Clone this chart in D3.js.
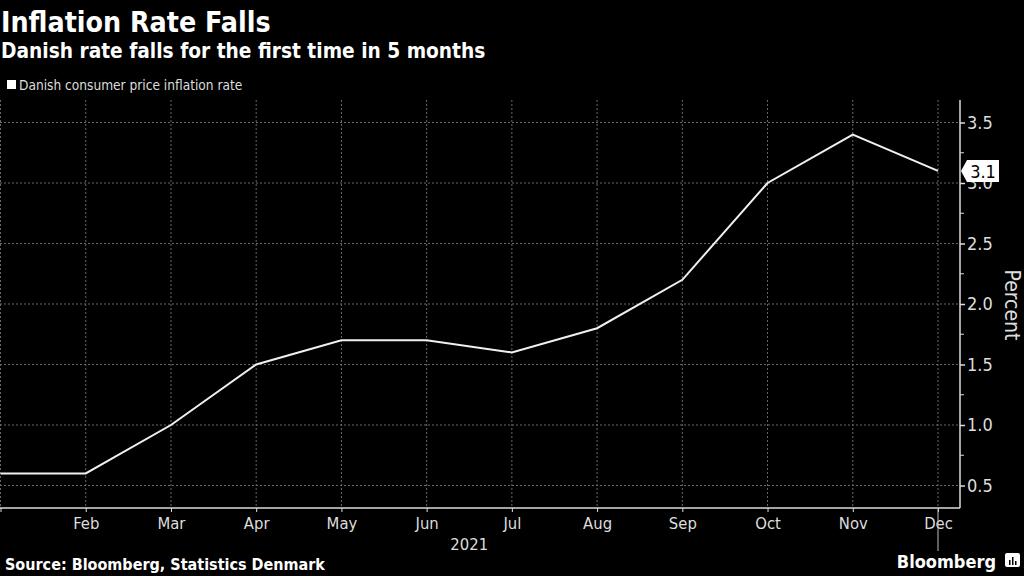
<!DOCTYPE html>
<html>
<head>
<meta charset="utf-8">
<script src="https://cdn.jsdelivr.net/npm/d3@7"></script>
<style>
  body { margin: 0; background: #000; }
  svg { display: block; }
  text { font-family: "DejaVu Sans Condensed", "DejaVu Sans", sans-serif; fill: #e8e8e8; }
</style>
</head>
<body>
<div id="chart"></div>
<script>
// Données
var months = ["Jan", "Feb", "Mar", "Apr", "May", "Jun", "Jul", "Aug", "Sep", "Oct", "Nov", "Dec"];
var rates = [0.6, 0.6, 1.0, 1.5, 1.7, 1.7, 1.6, 1.8, 2.2, 3.0, 3.4, 3.1];
var yTicks = [0.5, 1.0, 1.5, 2.0, 2.5, 3.0, 3.5];
var yMinorTicks = [0.75, 1.25, 1.75, 2.25, 2.75, 3.25];
var year = "2021";

var width = 1024, height = 576;

var svg = d3.select("#chart")
            .append("svg")
            .attr("width", width)
            .attr("height", height)
            .style("background", "#000");

var plot = {"left": 0, "right": 960, "top": 100, "bottom": 508};

var x = d3.scalePoint().domain(months).range([0.5, 938]);
var y = d3.scaleLinear().domain([0.5, 3.5]).range([485.5, 122.5]);

// Titres
svg.append("text").attr("x", 1).attr("y", 32)
   .style("font-size", "28.3px").style("font-weight", "bold").style("fill", "#fff")
   .text("Inflation Rate Falls");

svg.append("text").attr("x", 1).attr("y", 58)
   .style("font-size", "20.7px").style("font-weight", "bold").style("fill", "#fff")
   .text("Danish rate falls for the first time in 5 months");

// Légende
svg.append("rect").attr("x", 7).attr("y", 80).attr("width", 9).attr("height", 9).attr("fill", "#fff");
svg.append("text").attr("x", 19).attr("y", 90)
   .style("font-size", "13.6px").style("fill", "#ddd")
   .text("Danish consumer price inflation rate");

// Grille
var grid = svg.append("g").attr("class", "grid");

grid.selectAll(".vgrid")
    .data(months)
    .enter()
      .append("line")
      .attr("x1", function(d){return x(d);})
      .attr("x2", function(d){return x(d);})
      .attr("y1", plot.top)
      .attr("y2", plot.bottom)
      .attr("stroke", "#6a6a6a")
      .attr("stroke-width", 1)
      .attr("stroke-dasharray", "2,2");

grid.selectAll(".hgrid")
    .data(yTicks)
    .enter()
      .append("line")
      .attr("x1", 0)
      .attr("x2", plot.right)
      .attr("y1", function(d){return y(d);})
      .attr("y2", function(d){return y(d);})
      .attr("stroke", "#6a6a6a")
      .attr("stroke-width", 1)
      .attr("stroke-dasharray", "2,2");

// Axe Y (droite)
var yAxis = svg.append("g")
   .attr("transform", "translate(" + plot.right + ",0)")
   .call(d3.axisRight(y).tickValues(yTicks).tickFormat(d3.format(".1f")).tickSize(5).tickPadding(2));
yAxis.select(".domain").attr("d", "M0," + plot.top + "V" + plot.bottom).attr("stroke", "#ddd").attr("stroke-width", 1.5);
yAxis.selectAll(".tick line").attr("stroke", "#ddd").attr("stroke-width", 1.5);
yAxis.selectAll(".tick text").style("font-size", "18px").style("fill", "#ddd").style("font-family", null);

svg.append("g").selectAll("line")
   .data(yMinorTicks)
   .enter()
     .append("line")
     .attr("x1", plot.right)
     .attr("x2", plot.right + 4)
     .attr("y1", function(d){return y(d);})
     .attr("y2", function(d){return y(d);})
     .attr("stroke", "#ddd")
     .attr("stroke-width", 1);

svg.append("text")
   .attr("transform", "translate(1005," + 305 + ") rotate(90)")
   .attr("text-anchor", "middle")
   .style("font-size", "21px").style("fill", "#ddd")
   .text("Percent");

// Axe X
var xAxis = svg.append("g")
   .attr("transform", "translate(0," + plot.bottom + ")")
   .call(d3.axisBottom(x).tickSize(4).tickPadding(5));
xAxis.select(".domain").attr("d", "M0,0H" + plot.right).attr("stroke", "#ddd").attr("stroke-width", 1.5);
xAxis.selectAll(".tick line").attr("stroke", "#ddd");
xAxis.selectAll(".tick text")
     .style("font-size", "16.5px").style("fill", "#ddd").style("font-family", null)
     .text(function(d){return d == "Jan" ? "" : d;});

svg.append("line")
   .attr("x1", x("Dec")).attr("x2", x("Dec"))
   .attr("y1", plot.bottom).attr("y2", 551)
   .attr("stroke", "#bbb").attr("stroke-width", 1);

svg.append("text").attr("x", (x("Jan") + x("Dec")) / 2).attr("y", 550)
   .attr("text-anchor", "middle")
   .style("font-size", "16.5px").style("fill", "#ddd")
   .text(year);

// Courbe
var line = d3.line()
   .x(function(d, i){return x(months[i]);})
   .y(function(d){return y(d);});

svg.append("path")
   .datum(rates)
   .attr("d", line)
   .attr("fill", "none")
   .attr("stroke", "#f0f0f0")
   .attr("stroke-width", 2);

// Étiquette de la dernière valeur
var last = rates[rates.length - 1];
var ly = y(last);
var lx = plot.right + 1;
svg.append("path")
   .attr("d", "M" + lx + "," + ly + "L" + (lx + 6) + "," + (ly - 11) + "H" + (lx + 38) + "V" + (ly + 11) + "H" + (lx + 6) + "Z")
   .attr("fill", "#fff");
svg.append("text").attr("x", lx + 22).attr("y", ly + 7)
   .attr("text-anchor", "middle")
   .style("font-size", "18px").style("fill", "#000")
   .text(d3.format(".1f")(last));

// Source et logo
svg.append("text").attr("x", 5).attr("y", 570)
   .style("font-size", "16px").style("font-weight", "bold").style("fill", "#fff")
   .text("Source: Bloomberg, Statistics Denmark");

svg.append("text").attr("x", 996).attr("y", 568)
   .attr("text-anchor", "end")
   .style("font-size", "18px").style("font-weight", "bold").style("fill", "#fff")
   .text("Bloomberg");

var logo = svg.append("g").attr("transform", "translate(1005,553)");
logo.append("rect").attr("width", 15).attr("height", 14).attr("rx", 2).attr("fill", "#fff");
logo.selectAll(".bar")
    .data([5, 8, 4])
    .enter()
      .append("rect")
      .attr("x", function(d, i){return 4 + i * 3;})
      .attr("y", function(d){return 12 - d;})
      .attr("width", 1.5)
      .attr("height", function(d){return d;})
      .attr("fill", "#000");
</script>
</body>
</html>
